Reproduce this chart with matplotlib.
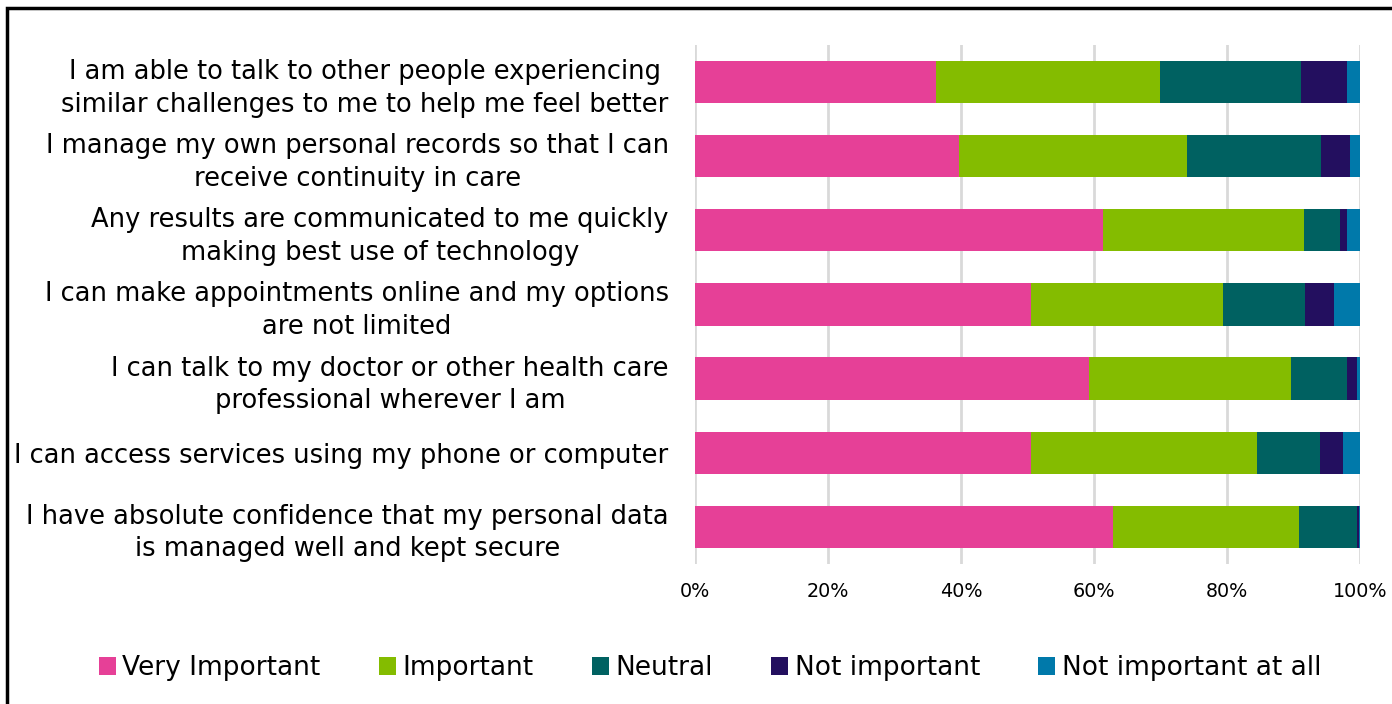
import numpy as np
import matplotlib.pyplot as plt
from matplotlib.patches import Rectangle

# statements, top to bottom as shown
statements = [
    "I am able to talk to other people experiencing\nsimilar challenges to me to help me feel better",
    "I manage my own personal records so that I can\nreceive continuity in care",
    "Any results are communicated to me quickly\nmaking best use of technology",
    "I can make appointments online and my options\nare not limited",
    "I can talk to my doctor or other health care\nprofessional wherever I am",
    "I can access services using my phone or computer",
    "I have absolute confidence that my personal data\nis managed well and kept secure",
]

categories = ["Very Important", "Important", "Neutral", "Not important", "Not important at all"]
colors = ["#E64097", "#84BC00", "#006161", "#230F5F", "#0079AA"]

# percentages per statement (same order as statements)
very_important = [36.2, 39.7, 61.4, 50.6, 59.2, 50.5, 62.9]
important = [33.7, 34.3, 30.2, 28.8, 30.5, 34.0, 27.9]
neutral = [21.2, 20.1, 5.4, 12.4, 8.3, 9.5, 8.8]
not_important = [6.9, 4.4, 1.0, 4.3, 1.6, 3.5, 0.3]
not_at_all = [2.0, 1.5, 2.0, 3.9, 0.4, 2.5, 0.1]

series = [very_important, important, neutral, not_important, not_at_all]

fig = plt.figure(figsize=(13.92, 7.04), dpi=100)
ax = fig.add_axes([0.4993, 0.199, 0.4777, 0.737])

y = np.arange(len(statements))
left = np.zeros(len(statements))
handles = []
for name, vals, col in zip(categories, series, colors):
    vals = np.array(vals)
    b = ax.barh(y, vals, left=left, height=0.57, color=col, label=name, zorder=3)
    handles.append(b)
    left += vals

ax.set_xlim(0, 100)
ax.set_ylim(len(statements) - 0.5, -0.5)
ax.set_xticks(np.arange(0, 101, 20))
ax.set_xticklabels([f"{v}%" for v in range(0, 101, 20)], fontsize=13.8)
ax.set_yticks(y)
ax.set_yticklabels(statements, fontsize=18.5, multialignment="center", linespacing=1.32)
ax.tick_params(axis="both", length=0)
ax.tick_params(axis="y", pad=19)
ax.tick_params(axis="x", pad=13)
ax.grid(axis="x", color="#d9d9d9", linewidth=2, zorder=0)
for s in ax.spines.values():
    s.set_visible(False)

fig.legend(handles=handles, labels=categories, loc="center", ncol=5,
           bbox_to_anchor=(0.51, 0.051), frameon=False, fontsize=19,
           handlelength=0.65, handleheight=0.65, handletextpad=0.25,
           columnspacing=2.2)

# outer frame
fig.patches.append(Rectangle((0.005, -0.01), 1.1, 0.998, transform=fig.transFigure,
                             fill=False, edgecolor="black", linewidth=2.5))

fig.savefig("out.png", dpi=100)
